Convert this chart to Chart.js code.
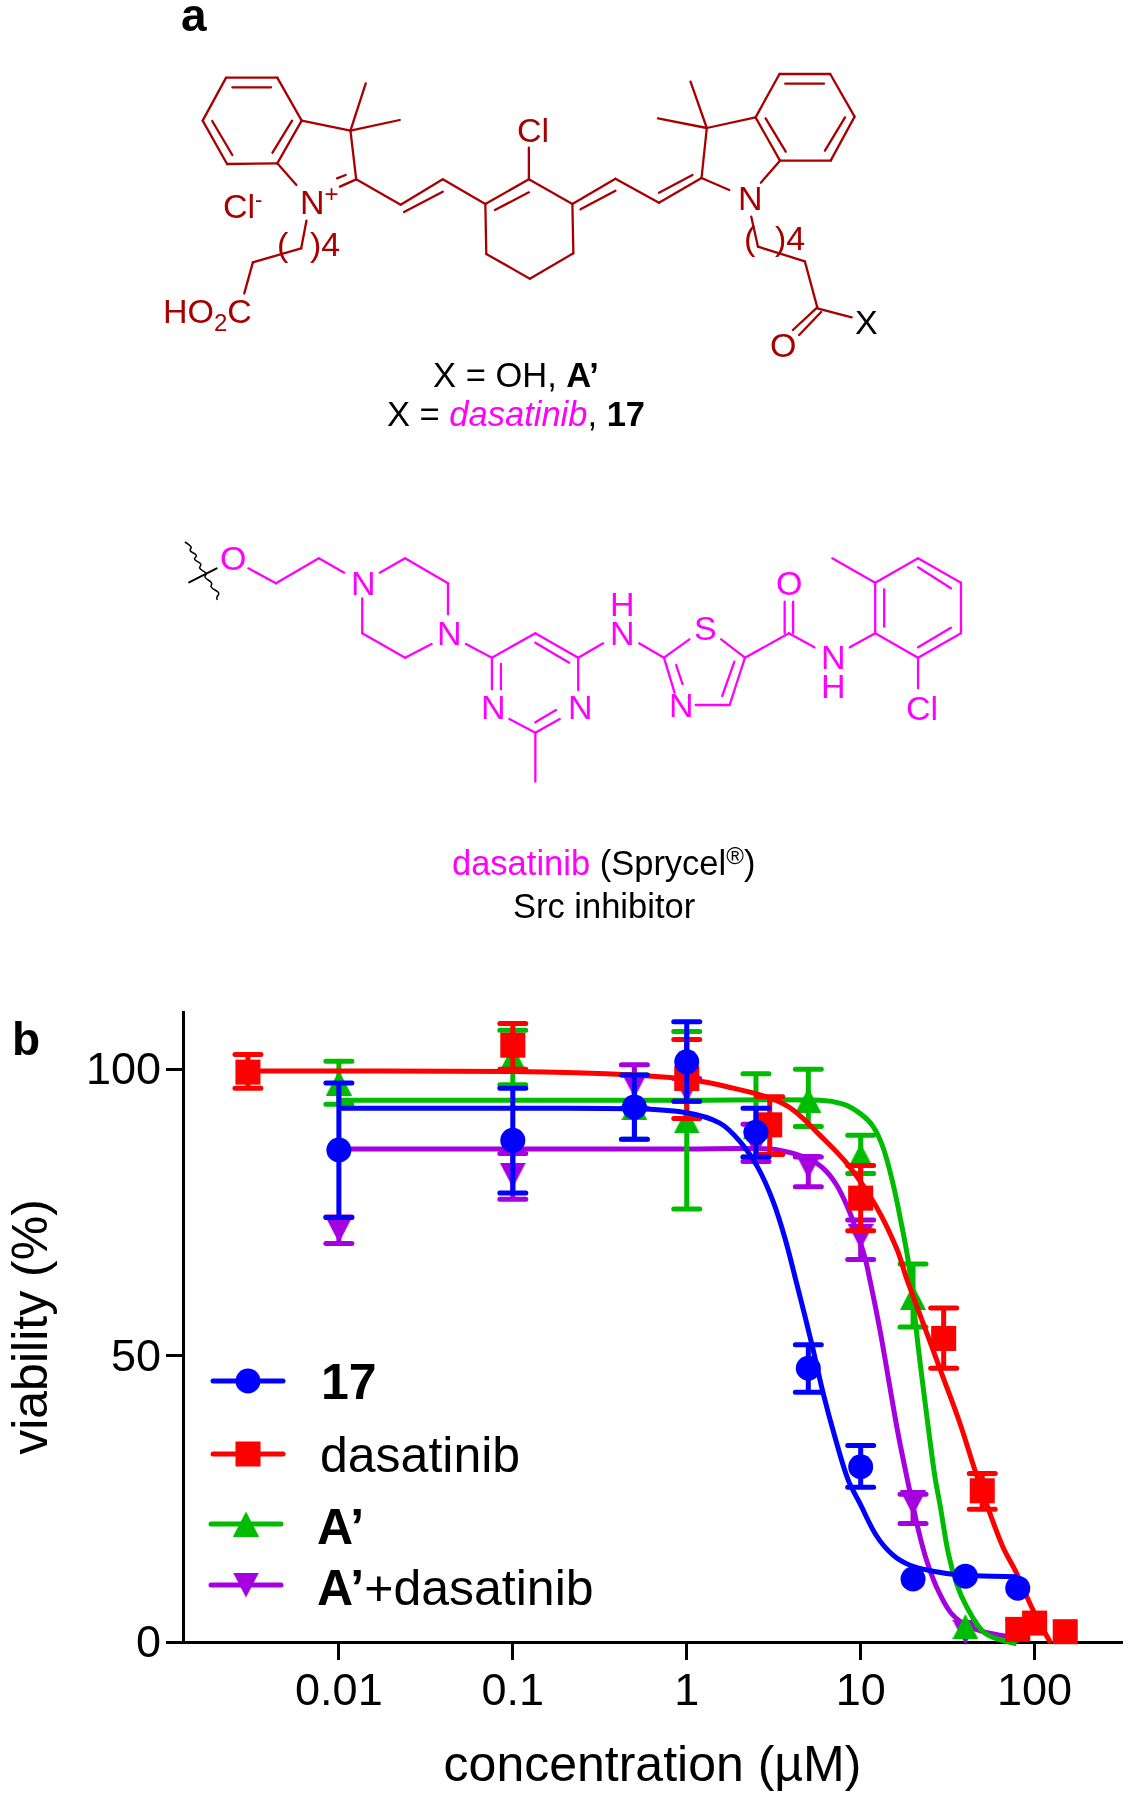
<!DOCTYPE html>
<html>
<head>
<meta charset="utf-8">
<title>Compound 17 and dasatinib viability</title>
<style>
html,body{margin:0;padding:0;background:#fff;width:1131px;height:1800px;overflow:hidden}
#c{position:absolute;left:0;top:0}
#s{position:absolute;left:0;top:0}
text{font-family:"Liberation Sans",Arial,sans-serif}
</style>
<script src="https://cdn.jsdelivr.net/npm/chart.js@4"></script>
</head>
<body>
<canvas id="c" width="1131" height="1800"></canvas>
<svg id="s" width="1131" height="1100" xmlns="http://www.w3.org/2000/svg"></svg>
<script>
// ---------- chart data ----------
const tickConc = [0.01, 0.1, 1, 10, 100];
const tickVia = [0, 50, 100];

const conc17 = [0.01, 0.1, 0.5, 1, 2.5, 5, 10, 20, 40, 80];
const via17  = [85.9, 87.6, 93.4, 101.3, 89, 47.8, 30.6, 11, 11.5, 9.4];
const top17  = [97.6, 96.7, 99, 108.3, 93.2, 51.9, 34.3, null, null, null];
const bot17  = [74.1, 78.4, 87.8, 94.4, 84.7, 43.6, 27, null, null, null];
const curve17x = [0.01, 0.1, 0.5, 1, 1.55, 2.02, 2.58, 3.14, 3.67, 4.31, 5.22, 6.09, 7.11, 8.47, 9.9, 12.3, 15.3, 19.2, 25.6, 37.2, 57.6, 80];
const curve17y = [93.2, 93.2, 93.1, 92.4, 90.6, 87.4, 82.7, 76.9, 70.5, 62.3, 52.2, 43.4, 35.8, 28.3, 24.2, 18.6, 15.2, 13.4, 12.4, 11.7, 11.5, 11.4];

const concDas = [0.003, 0.1, 1, 3, 10, 30, 50, 80, 100, 150];
const viaDas  = [99.5, 104.2, 98.4, 90.3, 77.5, 53, 26.4, 2.2, 3.3, 1.8];
const topDas  = [102.6, 108, 105.2, 95.2, 83.2, 58.3, 29.4, null, null, null];
const botDas  = [96.7, 100, 91.4, 85.1, 71.8, 47.8, 23.2, null, null, null];
const curveDasX = [0.003, 0.1, 0.5, 1.15, 1.85, 3, 4.09, 5.82, 8.47, 12.3, 16.1, 18.4, 22.9, 29.2, 37.2, 45.4, 55.3, 65.7, 78.8, 97.8, 123.6];
const curveDasY = [99.7, 99.6, 99, 98, 96.7, 95, 92.9, 88.5, 83.3, 76, 68.7, 63.4, 55.6, 46.9, 38.2, 30, 22.5, 16.6, 12, 5.6, -0.2];

const concA = [0.01, 0.1, 0.5, 1, 2.5, 5, 10, 20, 40];
const viaA  = [97.6, 102, 93.3, 91, 90, 94.6, 84.9, 60.2, 2.7];
const topA  = [101.4, 106.8, 99, 106.6, 99.2, 100, 88.5, 66, null];
const botA  = [93.9, 97.3, 87.8, 75.6, 84.7, 90, 81.8, 55, null];
const curveAX = [0.01, 1, 5.82, 7.93, 9.9, 11.8, 13.5, 15.4, 17.2, 18.8, 20, 21.4, 23.9, 26.7, 28.5, 31.9, 35.6, 40.6, 50.6, 63.2, 78.8];
const curveAY = [94.6, 94.6, 94.6, 93.9, 92.3, 90, 86.2, 79.8, 72.8, 66.4, 59.7, 51.6, 39.9, 28.9, 24.2, 15.5, 10.2, 6.2, 1.8, 0.4, -0.3];

const concAD = [0.01, 0.1, 0.5, 1, 2.5, 5, 10, 20, 40, 80];
const viaAD  = [71.9, 81.5, 97.2, 96.4, 87, 83.1, 70.8, 24.3, 1.7, 1.8];
const topAD  = [74.2, 85.3, 100.8, 98.4, 90.4, 84.7, 73.7, 25.8, null, null];
const botAD  = [69.6, 77.3, 93.2, 94.4, 83.9, 79.5, 66.8, 20.7, null, null];
const curveADX = [0.01, 1, 3, 3.75, 4.89, 6.09, 7.27, 8.47, 9.48, 10.6, 11.3, 12.9, 14.7, 16.4, 18.4, 21.3, 23.9, 27.3, 32.6, 38.7, 50.5, 69];
const curveADY = [86.1, 86.1, 86.1, 85.6, 84.5, 82.7, 79.8, 75.7, 71.7, 67, 63.2, 54.5, 44.6, 36.4, 28.9, 20, 14.3, 9.6, 5.3, 3.3, 1.8, 1];

const seriesNames = ['17', 'dasatinib', "A\u2019", "A\u2019+dasatinib"];
const seriesColors = ['#0000FF', '#FF0000', '#00BC00', '#A500DF'];

// ---------- marker shapes ----------
function triangleMarker(color, up) {
  const c = document.createElement('canvas');
  c.width = 26; c.height = 25;
  const g = c.getContext('2d');
  g.fillStyle = color;
  g.beginPath();
  if (up) { g.moveTo(13, 0); g.lineTo(26, 25); g.lineTo(0, 25); }
  else { g.moveTo(0, 0); g.lineTo(26, 0); g.lineTo(13, 25); }
  g.closePath();
  g.fill();
  return c;
}
const markerStyles = ['circle', 'rect', triangleMarker(seriesColors[2], true), triangleMarker(seriesColors[3], false)];
const markerRadii = [12.5, 17.7, 13, 13];

const zip = (xs, ys) => xs.map((x, i) => ({x, y: ys[i]}));
function pointsSet(i, xs, ys, tops, bots) {
  return {label: seriesNames[i], data: zip(xs, ys), errTop: tops, errBot: bots, showLine: false,
    pointStyle: markerStyles[i], pointRadius: markerRadii[i], pointBackgroundColor: seriesColors[i],
    pointBorderWidth: 0, borderColor: seriesColors[i], backgroundColor: seriesColors[i], clip: false};
}
function curveSet(i, xs, ys) {
  return {label: seriesNames[i] + ' fit', data: zip(xs, ys), showLine: true, pointRadius: 0,
    borderColor: seriesColors[i], backgroundColor: seriesColors[i], borderWidth: 5,
    tension: 0.35, cubicInterpolationMode: 'default', clip: false};
}

// ---------- plugins ----------
const plotRight = 1122;
const pinPlotArea = {
  id: 'pinPlotArea',
  afterLayout(chart) {
    const s = chart.scales.x;
    s.right = plotRight;
    s.width = plotRight - s.left;
    s.configure();
    chart.chartArea.right = plotRight;
    chart.chartArea.width = plotRight - chart.chartArea.left;
  }
};
const errorBars = {
  id: 'errorBars',
  beforeDatasetDraw(chart, args) {
    const ds = chart.data.datasets[args.index];
    if (!ds.errTop) return;
    const {ctx, scales: {x, y}} = chart;
    ctx.save();
    ctx.strokeStyle = ds.borderColor;
    ctx.lineWidth = 5;
    ctx.lineCap = 'round';
    ds.data.forEach((p, i) => {
      if (ds.errTop[i] == null) return;
      const px = x.getPixelForValue(p.x);
      const t = y.getPixelForValue(ds.errTop[i]);
      const b = y.getPixelForValue(ds.errBot[i]);
      ctx.beginPath();
      ctx.moveTo(px, t); ctx.lineTo(px, b);
      ctx.moveTo(px - 13, t); ctx.lineTo(px + 13, t);
      ctx.moveTo(px - 13, b); ctx.lineTo(px + 13, b);
      ctx.stroke();
    });
    ctx.restore();
  }
};

const legendKeyY = [1381, 1454, 1524, 1585];
const legendBase = [1399, 1472, 1544, 1605];
const legendKeyX = [248, 248, 246, 246];
const legendTextX = [321, 320, 317, 317];
const inPlotLegend = {
  id: 'inPlotLegend',
  afterDatasetsDraw(chart) {
    const ctx = chart.ctx;
    ctx.save();
    seriesNames.forEach((name, i) => {
      const y = legendKeyY[i], kx = legendKeyX[i];
      ctx.strokeStyle = seriesColors[i];
      ctx.lineWidth = 5;
      ctx.lineCap = 'round';
      ctx.beginPath(); ctx.moveTo(kx - 35, y); ctx.lineTo(kx + 35, y); ctx.stroke();
      ctx.fillStyle = seriesColors[i];
      Chart.helpers.drawPoint(ctx, {pointStyle: markerStyles[i], radius: markerRadii[i], borderWidth: 0, rotation: 0}, kx, y);
      ctx.fillStyle = '#000';
      ctx.textBaseline = 'alphabetic';
      ctx.textAlign = 'left';
      let tx = legendTextX[i];
      const font = w => w + ' 50px "Liberation Sans", Arial, sans-serif';
      if (i === 0) {
        ctx.font = font('bold'); ctx.fillText(name, tx, legendBase[i]);
      } else if (i === 1) {
        ctx.font = font('normal'); ctx.fillText(name, tx, legendBase[i]);
      } else {
        const head = name.slice(0, 2), rest = name.slice(2);
        ctx.font = font('bold'); ctx.fillText(head, tx, legendBase[i]);
        tx += ctx.measureText(head).width;
        if (rest) { ctx.font = font('normal'); ctx.fillText(rest, tx, legendBase[i]); }
      }
    });
    ctx.restore();
  }
};

// ---------- chart ----------
Chart.defaults.font.family = '"Liberation Sans", Arial, sans-serif';
new Chart(document.getElementById('c'), {
  type: 'scatter',
  data: {datasets: [
    pointsSet(0, conc17, via17, top17, bot17), curveSet(0, curve17x, curve17y),
    pointsSet(1, concDas, viaDas, topDas, botDas), curveSet(1, curveDasX, curveDasY),
    pointsSet(2, concA, viaA, topA, botA), curveSet(2, curveAX, curveAY),
    pointsSet(3, concAD, viaAD, topAD, botAD), curveSet(3, curveADX, curveADY)
  ]},
  plugins: [pinPlotArea, errorBars, inPlotLegend],
  options: {
    responsive: false,
    animation: false,
    layout: {padding: {top: 1012, right: 0, left: 0, bottom: 0}},
    plugins: {legend: {display: false}, tooltip: {enabled: false}},
    scales: {
      x: {
        type: 'logarithmic', bounds: 'data', min: 0.00127, max: 318,
        afterFit: s => { s.height = 158; s.paddingLeft = 0; s.paddingRight = 0; },
        afterBuildTicks: s => { s.ticks = tickConc.map(value => ({value, major: true})); },
        title: {display: true, text: 'concentration (\u00B5M)', color: '#000', font: {size: 50}, padding: {top: 0, bottom: 3}},
        border: {display: true, color: '#000', width: 3},
        grid: {drawOnChartArea: false, drawTicks: true, tickLength: 18, tickWidth: 3, tickColor: '#000'},
        ticks: {color: '#000', font: {size: 45}, padding: 6, autoSkip: false, maxRotation: 0,
          callback: v => String(v)}
      },
      y: {
        min: 0, max: 110,
        afterFit: s => { s.width = 183; },
        afterBuildTicks: s => { s.ticks = tickVia.map(value => ({value})); },
        title: {display: true, text: 'viability (%)', color: '#000', font: {size: 50}, padding: {top: 3, bottom: 0}},
        border: {display: true, color: '#000', width: 3},
        grid: {drawOnChartArea: false, drawTicks: true, tickLength: 17, tickWidth: 3, tickColor: '#000'},
        ticks: {color: '#000', font: {size: 45}, padding: 5, labelOffset: 2.5, callback: v => String(v)}
      }
    }
  }
});

// ---------- chemical structures (panel a) ----------
const SVGNS = 'http://www.w3.org/2000/svg';
const svg = document.getElementById('s');
function line(x1, y1, x2, y2, color, w) {
  const l = document.createElementNS(SVGNS, 'line');
  l.setAttribute('x1', x1); l.setAttribute('y1', y1); l.setAttribute('x2', x2); l.setAttribute('y2', y2);
  l.setAttribute('stroke', color); l.setAttribute('stroke-width', w); l.setAttribute('stroke-linecap', 'round');
  svg.appendChild(l);
}
function text(x, y, parts, size, anchor) {
  const t = document.createElementNS(SVGNS, 'text');
  t.setAttribute('x', x); t.setAttribute('y', y); t.setAttribute('font-size', size);
  if (anchor) t.setAttribute('text-anchor', anchor);
  parts.forEach(p => {
    const s = document.createElementNS(SVGNS, 'tspan');
    s.textContent = p.t;
    s.setAttribute('fill', p.c || '#000');
    if (p.b) s.setAttribute('font-weight', 'bold');
    if (p.i) s.setAttribute('font-style', 'italic');
    if (p.s) s.setAttribute('font-size', p.s);
    if (p.dy) s.setAttribute('dy', p.dy);
    t.appendChild(s);
  });
  svg.appendChild(t);
}
const DARK = '#A80000', PINK = '#FF00FF';
const bondsDye = [
 [180,233,287,233],[287,233,338,362],[338,362,287,490],[287,490,182,492],[182,492,131,362],[131,362,180,233],
 [193,262,274,262],[318,362,277,458],[151,363,193,465],
 [338,362,440,392],[440,392,452,538],[287,490,327,555],[440,392,472,250],[440,392,543,360],
 [452,538,418,560],[430,525,412,535],
 [452,538,545,614],[545,614,633,538],[552,636,633,575],[633,538,722,612],
 [722,612,813,538],[742,630,813,577],[813,538,904,612],[904,612,906,760],[906,760,815,836],[815,836,724,762],[724,762,722,612],
 [813,538,813,443],
 [904,612,994,536],[921,628,994,572],[994,536,1085,608],[1085,608,1174,534],[1085,578,1155,525],[1174,534,1232,570],
 [1174,534,1185,384],[1185,384,1287,352],[1298,548,1338,482],[1185,384,1151,245],[1185,384,1083,355],
 [1287,352,1338,482],[1338,482,1444,482],[1444,482,1494,350],[1494,350,1443,222],[1443,222,1337,222],[1337,222,1287,352],
 [1308,355,1350,455],[1432,452,1474,352],[1349,251,1430,251],
 [1278,650,1292,740],[1292,740,1390,784],[1390,784,1416,922],[1416,922,1365,990],[1424,936,1378,1005],[1416,925,1488,952],
 [348,662,337,745],[337,745,236,787],[236,787,218,880]
];
bondsDye.forEach(b => line(140 + b[0] / 2.0907, b[1] / 3, 140 + b[2] / 2.0907, b[3] / 3, DARK, 2.3));

const bondsDasa = [
 [167,145,219,190],[219,190,300,115],[300,115,348,158],
 [415,158,463,115],[463,115,544,190],[544,190,544,283],[513,372,463,413],[463,413,382,340],[382,340,382,235],
 [578,372,627,413],[627,413,709,340],[709,340,790,413],[709,368,773,428],[627,413,627,508],[644,432,644,508],[790,413,790,510],
 [660,597,709,638],[709,638,755,597],[709,607,748,570],[709,638,709,785],
 [790,413,837,370],[905,370,952,413],
 [952,413,1000,358],[1060,358,1105,413],[952,413,972,518],[975,435,987,492],[1012,555,1076,555],[1076,555,1105,413],[1062,528,1085,425],
 [1105,413,1188,340],[1180,340,1180,245],[1196,340,1196,245],[1188,340,1236,382],[1303,382,1351,340],
 [1351,340,1351,188],[1351,188,1432,115],[1432,115,1513,188],[1513,188,1513,340],[1513,340,1432,413],[1432,413,1351,340],
 [1368,320,1368,208],[1432,142,1494,205],[1494,323,1432,382],[1351,188,1270,115],[1432,413,1432,505]
];
bondsDasa.forEach(b => line(160 + b[0] / 1.889, 520 + b[1] / 3, 160 + b[2] / 1.889, 520 + b[3] / 3, PINK, 2.3));

const wavy = [[47,66],[62,80],[54,92],[72,106],[62,118],[80,132],[72,145],[90,160],[82,172],[100,188],[94,202],[114,218],[106,232],[110,248]];
let wavyPath = 'M' + (160 + wavy[0][0] / 1.889) + ' ' + (520 + wavy[0][1] / 3);
for (let i = 1; i < wavy.length - 1; i++) {
  const mx = (wavy[i][0] + wavy[i+1][0]) / 2, my = (wavy[i][1] + wavy[i+1][1]) / 2;
  wavyPath += ' Q' + (160 + wavy[i][0] / 1.889) + ' ' + (520 + wavy[i][1] / 3) + ' ' + (160 + mx / 1.889) + ' ' + (520 + my / 3);
}
const wp = document.createElementNS(SVGNS, 'path');
wp.setAttribute('d', wavyPath); wp.setAttribute('fill', 'none'); wp.setAttribute('stroke', '#000'); wp.setAttribute('stroke-width', 1.5);
svg.appendChild(wp);
line(160 + 55 / 1.889, 520 + 187 / 3, 160 + 107 / 1.889, 520 + 145 / 3, '#000', 2);

text(181, 31, [{t: 'a', b: 1}], 46);
text(12, 1055, [{t: 'b', b: 1}], 46);

const F = 34;
text(517, 142, [{t: 'Cl', c: DARK}], F);
text(223, 218, [{t: 'Cl', c: DARK}, {t: '-', c: DARK, s: 22, dy: -11}], F);
text(300, 214, [{t: 'N', c: DARK}, {t: '+', c: DARK, s: 24, dy: -12}], F);
text(277, 256, [{t: '(', c: DARK}], F);
text(310, 256, [{t: ')4', c: DARK}], F);
text(163, 323, [{t: 'HO', c: DARK}, {t: '2', c: DARK, s: 24, dy: 8}, {t: 'C', c: DARK, dy: -8}], F);
text(738, 210, [{t: 'N', c: DARK}], F);
text(744, 250, [{t: '(', c: DARK}], F);
text(775, 250, [{t: ')4', c: DARK}], F);
text(770, 357, [{t: 'O', c: DARK}], F);
text(855, 334, [{t: 'X'}], F);
text(516, 387, [{t: 'X = OH, '}, {t: 'A\u2019', b: 1}], 34.5, 'middle');
text(516, 426, [{t: 'X = '}, {t: 'dasatinib', c: PINK, i: 1}, {t: ', '}, {t: '17', b: 1}], 34.5, 'middle');

text(220, 570, [{t: 'O', c: PINK}], F);
text(351, 595, [{t: 'N', c: PINK}], F);
text(437, 645, [{t: 'N', c: PINK}], F);
text(610, 616, [{t: 'H', c: PINK}], F);
text(610, 645, [{t: 'N', c: PINK}], F);
text(694, 640, [{t: 'S', c: PINK}], F);
text(776, 595, [{t: 'O', c: PINK}], F);
text(481, 719, [{t: 'N', c: PINK}], F);
text(568, 719, [{t: 'N', c: PINK}], F);
text(669, 717, [{t: 'N', c: PINK}], F);
text(821, 669, [{t: 'N', c: PINK}], F);
text(821, 698, [{t: 'H', c: PINK}], F);
text(906, 720, [{t: 'Cl', c: PINK}], F);
text(452, 875, [{t: 'dasatinib', c: PINK}, {t: ' (Sprycel'}, {t: '\u00AE', s: 24, dy: -11}, {t: ')', dy: 11}], 34.5);
text(513, 918, [{t: 'Src inhibitor'}], 34.5);
</script>
</body>
</html>
